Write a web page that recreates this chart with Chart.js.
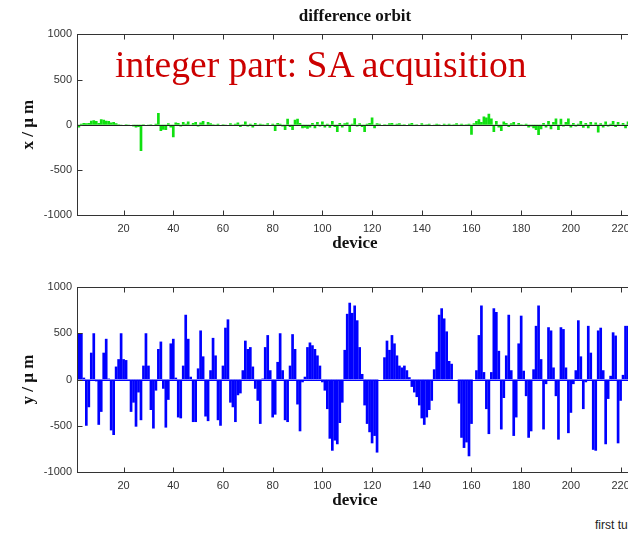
<!DOCTYPE html>
<html>
<head>
<meta charset="utf-8">
<title>difference orbit</title>
<script src="https://cdn.jsdelivr.net/npm/chart.js@4/dist/chart.umd.min.js"></script>
<style>
  body { margin: 0; width: 628px; height: 534px; overflow: hidden; background: #fff; position: relative; }
  canvas { position: absolute; left: 0; }
  #plotX { top: 0; }
  #plotY { top: 256px; }
  .note { position: absolute; left: 115px; top: 46px; font: 37.5px "Liberation Serif", "Times New Roman", serif; line-height: 37px; color: #cc0000; white-space: nowrap; }
  .footer { position: absolute; left: 595px; top: 519px; font: 12px "Liberation Sans", Arial, sans-serif; line-height: 12px; color: #222; white-space: nowrap; }
</style>
</head>
<body>
<canvas id="plotX" width="640" height="256"></canvas>
<canvas id="plotY" width="640" height="257"></canvas>
<div class="note">integer part: SA acquisition</div>
<div class="footer">first turn</div>
<script>
/* axis ticks */
const xTicks = [20, 40, 60, 80, 100, 120, 140, 160, 180, 200, 220];
const yTicks = [-1000, -500, 0, 500, 1000];

/* horizontal difference orbit per device (um) */
const xOrbit = [
  -40, -30, 10, 20, 15, 20, 45, 50, 40, 20,
  60, 55, 45, 40, 25, 30, 15, 5, -5, 0,
  5, -5, 0, -20, -30, -25, -290, 5, 0, -5,
  5, 0, 10, 130, -70, -55, -60, 15, -30, -140,
  25, 20, -20, 30, 10, 35, -15, 20, 30, -20,
  25, 40, -10, 30, 15, 5, -10, 10, 0, 5,
  -5, 0, 15, -10, 10, 25, -25, 5, 35, -20,
  10, -30, 20, -15, 10, 5, -10, 15, 0, 10,
  -70, 20, 10, -20, -60, 65, -25, -60, 55, 65,
  20, -40, -35, -45, -30, 20, -40, 30, -20, 35,
  -30, 10, -35, 40, -25, -80, 20, -30, 15, 25,
  -80, 10, 72, -20, 15, -25, -80, 10, 20, 80,
  -40, 15, 10, 0, 5, -10, 15, 20, -5, 10,
  15, -10, 5, 0, 10, 20, -5, 5, 0, 15,
  -10, 5, 10, 0, -5, 10, 5, 0, 10, -5,
  10, -10, 5, 15, -5, 10, -15, 5, 10, -110,
  15, 40, 60, 30, 90, 80, 120, 70, -80, 40,
  -30, -70, 35, 20, -25, 15, 30, -10, 20, 5,
  -15, 10, -30, -20, -40, -60, -115, -50, 20, -30,
  40, -50, 30, 70, -60, 65, -20, 30, 70, -30,
  20, -20, 10, 40, -35, 20, -40, 30, -10, 25,
  -85, 15, -30, 35, -20, 10, 40, -25, 30, -15,
  20, -40, 35, 10, 40
];

/* vertical difference orbit per device (um) */
const yOrbit = [
  -100, 500, 500, 20, -500, -300, 290, 500, -20, -490,
  -350, 290, 440, 10, -550, -600, 140, 220, 500, 220,
  210, -10, -350, -250, -510, -140, -440, 150, 500, 150,
  -330, -530, -120, 330, 410, -100, -520, -220, 390, 440,
  20, -410, -420, 150, 700, 440, 30, -460, -460, 120,
  530, 250, -400, -450, 100, 450, 260, -440, -500, 150,
  560, 650, -250, -300, -460, -170, -150, 100, 420, 330,
  350, 140, -100, -230, -480, 10, 350, 480, 100, -410,
  -380, 190, 500, 100, -440, -460, 150, 490, 330, -270,
  -560, -30, 30, 350, 400, 370, 330, 260, 150, -30,
  -120, -320, -640, -770, -660, -700, -470, -250, 320, 710,
  830, 720, 800, 640, 350, 60, -280, -480, -570, -690,
  -610, -790, 0, 0, 240, 420, 320, 480, 390, 260,
  150, 130, 150, 100, 25, -80, -140, -190, -280, -420,
  -490, -410, -330, -230, 110, 300, 700, 770, 660, 520,
  200, 170, 0, 0, -260, -630, -740, -680, -830, -480,
  0, 100, 480, 800, 80, -320, -590, 80, 770, 730,
  310, -540, -200, 260, 700, 100, -610, -410, 390, 690,
  95, -180, -630, -560, 110, 580, 800, 220, -540, -50,
  565, 530, 130, -180, -650, 565, 545, 130, -580, -360,
  -50, 100, 640, 250, -320, -30, 580, 290, -760, -770,
  530, 560, 100, -700, -210, 40, 510, 475, -690, -230,
  50, 580, 580, 300, -200
];

// device numbers 1..N
const devices = xOrbit.map((v, i) => i + 1);

Chart.defaults.font.family = "'Liberation Sans', Arial, sans-serif";
Chart.defaults.font.size = 11;
Chart.defaults.color = '#333';

// box round the axes, inward ticks, and the bar baseline
const framePlugin = {
  id: 'frame',
  afterDatasetsDraw(chart, args, opts) {
    const { ctx, chartArea: a, scales: { x, y } } = chart;
    ctx.save();
    ctx.lineWidth = 1;
    const y0 = Math.round(y.getPixelForValue(0)) + 0.5;
    ctx.strokeStyle = opts.baseColor;
    ctx.beginPath();
    ctx.moveTo(a.left, y0);
    ctx.lineTo(a.right, y0);
    ctx.stroke();

    ctx.strokeStyle = '#333';
    const l = Math.round(a.left) + 0.5, t = Math.round(a.top) + 0.5;
    const r = Math.round(a.right) + 0.5, b = Math.round(a.bottom) + 0.5;
    ctx.strokeRect(l, t, r - l, b - t);
    ctx.beginPath();
    x.ticks.forEach(tk => {
      const px = Math.round(x.getPixelForValue(tk.value)) + 0.5;
      ctx.moveTo(px, t); ctx.lineTo(px, t + 5);
      ctx.moveTo(px, b); ctx.lineTo(px, b - 5);
    });
    y.ticks.forEach(tk => {
      const py = Math.round(y.getPixelForValue(tk.value)) + 0.5;
      ctx.moveTo(l, py); ctx.lineTo(l + 5, py);
      ctx.moveTo(r, py); ctx.lineTo(r - 5, py);
    });
    ctx.stroke();
    ctx.restore();
  }
};

function makeChart(id, values, color, yLabel, withTitle) {
  return new Chart(document.getElementById(id), {
    type: 'bar',
    data: {
      labels: devices,
      datasets: [{
        data: values,
        backgroundColor: color,
        borderWidth: 0,
        barPercentage: 1.08,
        categoryPercentage: 1
      }]
    },
    options: {
      responsive: false,
      animation: false,
      layout: { padding: { top: withTitle ? 6 : 31, right: 7, left: 0, bottom: 0 } },
      plugins: {
        legend: { display: false },
        tooltip: { enabled: false },
        title: {
          display: withTitle,
          text: 'difference orbit',
          fullSize: false,
          color: '#111',
          font: { family: "'Liberation Serif', 'Times New Roman', serif", size: 17, weight: 'bold' },
          padding: { top: 0, bottom: 8 }
        },
        frame: { baseColor: withTitle ? '#222' : color }
      },
      scales: {
        x: {
          type: 'linear',
          offset: false,
          min: 1.25,
          max: 225,
          afterBuildTicks: s => { s.ticks = xTicks.map(v => ({ value: v })); },
          afterFit: s => { s.height = 41; },
          grid: { display: false, drawTicks: false },
          border: { display: false },
          ticks: { padding: 7, maxRotation: 0, autoSkip: false, callback: v => String(v) },
          title: {
            display: true,
            text: 'device',
            color: '#111',
            font: { family: "'Liberation Serif', 'Times New Roman', serif", size: 17, weight: 'bold' },
            padding: { top: 0, bottom: 2 }
          }
        },
        y: {
          min: -1000,
          max: 1000,
          afterBuildTicks: s => { s.ticks = yTicks.map(v => ({ value: v })); },
          afterFit: s => { s.width = 77; },
          grid: { display: false, drawTicks: false },
          border: { display: false },
          ticks: { padding: 5, callback: v => String(v) },
          title: {
            display: true,
            text: yLabel,
            color: '#111',
            font: { family: "'Liberation Serif', 'Times New Roman', serif", size: 17, weight: 'bold' },
            padding: { top: 18, bottom: 0 }
          }
        }
      }
    },
    plugins: [framePlugin]
  });
}

makeChart('plotX', xOrbit, '#10e010', 'x / \u03bc m', true);
makeChart('plotY', yOrbit, '#0000ff', 'y / \u03bc m', false);
</script>
</body>
</html>
